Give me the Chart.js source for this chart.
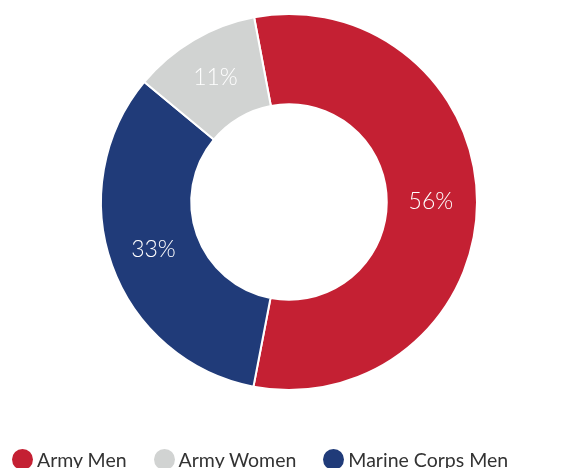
<!DOCTYPE html>
<html>
<head>
<meta charset="utf-8">
<script src="https://cdn.jsdelivr.net/npm/chart.js@4/dist/chart.umd.min.js"></script>
<style>
  html, body { margin: 0; padding: 0; background: #fff; }
  #wrap { position: relative; width: 588px; height: 468px; overflow: hidden; }
  #legend {
    position: absolute; left: 12px; top: 449px;
    display: flex; align-items: center; gap: 27px;
    font-family: Lato, "Open Sans", sans-serif; font-size: 19.5px; color: #333;
    line-height: 21px; white-space: nowrap;
  }
  #legend .item { display: flex; align-items: center; gap: 4px; }
  #legend .dot { width: 21px; height: 21px; border-radius: 50%; display: inline-block; }
</style>
</head>
<body>
<div id="wrap">
  <canvas id="chart" width="588" height="468"></canvas>
  <div id="legend"></div>
</div>
<script>
// drawing order is clockwise from the top; legend order differs
const categories = ['Army Men', 'Marine Corps Men', 'Army Women'];
const shares = [56, 33, 11];
const colors = ['#c42033', '#203b79', '#d1d3d2'];
const legendOrder = ['Army Men', 'Army Women', 'Marine Corps Men'];

const sliceLabels = {
  id: 'sliceLabels',
  afterDatasetsDraw(chart) {
    const ctx = chart.ctx;
    const meta = chart.getDatasetMeta(0);
    ctx.save();
    ctx.fillStyle = '#fff';
    ctx.font = '300 23px Lato, "Open Sans", sans-serif';
    ctx.textAlign = 'center';
    ctx.textBaseline = 'middle';
    meta.data.forEach((arc, i) => {
      const p = arc.tooltipPosition();
      ctx.fillText(shares[i] + '%', p.x - 1, p.y - 1);
    });
    ctx.restore();
  }
};

new Chart(document.getElementById('chart'), {
  type: 'doughnut',
  data: {
    labels: categories,
    datasets: [{
      data: shares,
      backgroundColor: colors,
      borderColor: '#fff',
      borderWidth: 2,
      hoverOffset: 0
    }]
  },
  options: {
    responsive: false,
    animation: false,
    cutout: '52%',
    rotation: -10.7,
    layout: { padding: { left: 100, right: 110, top: 13, bottom: 77 } },
    plugins: {
      legend: { display: false },
      tooltip: { enabled: false }
    }
  },
  plugins: [sliceLabels]
});

const legend = document.getElementById('legend');
legendOrder.forEach(name => {
  const i = categories.indexOf(name);
  const item = document.createElement('span');
  item.className = 'item';
  item.innerHTML = '<span class="dot" style="background:' + colors[i] + '"></span><span>' + name + '</span>';
  legend.appendChild(item);
});
</script>
</body>
</html>
